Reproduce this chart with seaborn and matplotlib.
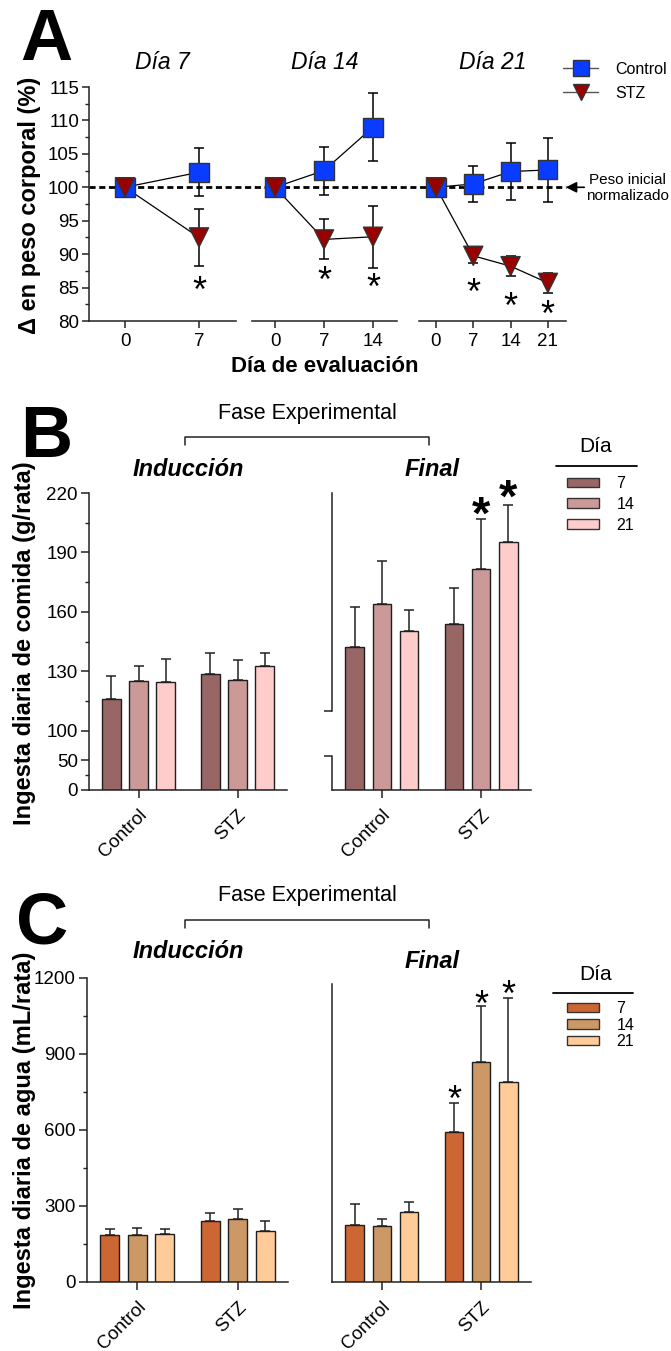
import numpy as np
import pandas as pd
import matplotlib
matplotlib.use("Agg")
import matplotlib.pyplot as plt
import seaborn as sns
from matplotlib.lines import Line2D
from matplotlib.patches import Patch
from matplotlib.transforms import blended_transform_factory, ScaledTranslation

# ------------------------------------------------------------------ data
# Panel A: body weight change (%)
A_titles = ["Día 7", "Día 14", "Día 21"]
A_days = [[0, 7], [0, 7, 14], [0, 7, 14, 21]]
A_ctrl_mean = [[100, 102.25], [100, 102.5, 109.0], [100, 100.5, 102.35, 102.6]]
A_ctrl_err = [[0, 3.6], [0, 3.6, 5.05], [0, 2.75, 4.3, 4.8]]
A_stz_mean = [[100, 92.5], [100, 92.2, 92.6], [100, 89.75, 88.2, 85.7]]
A_stz_err = [[0, 4.2], [0, 3.0, 4.6], [0, 1.1, 1.5, 1.5]]
A_star_days = [[7], [7, 14], [7, 14, 21]]
A_star_y = [[85.9], [87.4, 86.4], [85.7, 83.6, 82.4]]
A_yticks = [80, 85, 90, 95, 100, 105, 110, 115]

groups = ["Control", "STZ"]
dias = ["7", "14", "21"]
phases = ["Inducción", "Final"]

# Panel B: daily food intake (g/rata)
B_mean = {"Inducción": {"Control": [115.9, 125.2, 124.8], "STZ": [128.6, 125.7, 132.8]},
          "Final": {"Control": [142.4, 164.1, 150.2], "STZ": [153.7, 181.8, 195.3]}}
B_err = {"Inducción": {"Control": [11.8, 7.6, 11.4], "STZ": [10.6, 10.0, 6.7]},
         "Final": {"Control": [20.0, 21.8, 10.6], "STZ": [18.5, 25.0, 18.8]}}
B_stars = [("STZ", "14", 215.5), ("STZ", "21", 224.0)]
B_yticks = [0, 50, 100, 130, 160, 190, 220]
B_yminor = [25, 115, 145, 175, 205]
B_colors = ["#996666", "#cc9999", "#ffcccc"]

# Panel C: daily water intake (mL/rata)
C_mean = {"Inducción": {"Control": [187, 187, 190], "STZ": [240, 249, 203]},
          "Final": {"Control": [224, 223, 278], "STZ": [591, 868, 789]}}
C_err = {"Inducción": {"Control": [21, 27, 18], "STZ": [34, 41, 38]},
         "Final": {"Control": [85, 24, 37], "STZ": [116, 223, 331]}}
C_stars = [("STZ", "7", 758), ("STZ", "14", 1133), ("STZ", "21", 1172)]
C_yticks = [0, 300, 600, 900, 1200]
C_yminor = [150, 450, 750, 1050]
C_colors = ["#cc6633", "#cc9966", "#ffcc99"]

# ------------------------------------------------------------------ style
sns.set_style("ticks")
plt.rcParams["font.family"] = ["Liberation Sans", "DejaVu Sans"]
plt.rcParams["text.color"] = "black"
plt.rcParams["axes.labelcolor"] = "black"
plt.rcParams["axes.linewidth"] = 1.1
plt.rcParams["axes.edgecolor"] = "#222222"
plt.rcParams["xtick.color"] = "#222222"
plt.rcParams["ytick.color"] = "#222222"
plt.rcParams["xtick.labelcolor"] = "black"
plt.rcParams["ytick.labelcolor"] = "black"

W, H = 671, 1351
fig = plt.figure(figsize=(W / 100, H / 100), dpi=100)


def rect(l, t, r, b):
    return [l / W, 1 - b / H, (r - l) / W, (b - t) / H]


def fx(x):
    return x / W


def fy(y):
    return 1 - y / H


TICK_FS = 13.5


def star(ax, x, y, size, transform=None, bold=False):
    tr = transform if transform is not None else ax.transData
    tr = tr + ScaledTranslation(0, -0.57 * size / 72, fig.dpi_scale_trans)
    ax.text(x, y, "*", fontsize=size, ha="center", va="baseline", transform=tr,
            clip_on=False, fontweight="bold" if bold else "normal", zorder=6)


# ------------------------------------------------------------------ panel A
A_rects = [rect(89, 87, 236, 321), rect(252, 87, 397, 321), rect(419, 87, 566, 321)]
A_xlims = [(-3.41, 10.5), (-3.29, 17.43), (-3.19, 24.4)]
blue, red = "#0a3cff", "#990000"
axesA = []
for i in range(3):
    ax = fig.add_axes(A_rects[i])
    ax.patch.set_visible(False)
    axesA.append(ax)
    rows = []
    for g, means, errs in (("Control", A_ctrl_mean[i], A_ctrl_err[i]),
                           ("STZ", A_stz_mean[i], A_stz_err[i])):
        for d, m, e in zip(A_days[i], means, errs):
            rows.append({"day": d, "val": m, "err": e, "group": g})
    df = pd.DataFrame(rows)
    sns.lineplot(data=df, x="day", y="val", units="group", estimator=None,
                 color="black", lw=0.9, ax=ax, zorder=2, legend=False)
    for g in groups:
        sub = df[(df.group == g) & (df.err > 0)]
        ax.errorbar(sub.day, sub.val, yerr=sub.err, fmt="none", ecolor="black",
                    elinewidth=1.1, capsize=3.5, capthick=1.1, zorder=3)
    sns.scatterplot(data=df, x="day", y="val", hue="group", style="group",
                    hue_order=groups, style_order=groups,
                    palette={"Control": blue, "STZ": red},
                    markers={"Control": "s", "STZ": "v"}, s=190,
                    edgecolor="#333333", linewidth=1.0, ax=ax, zorder=4, legend=False)
    for d, y in zip(A_star_days[i], A_star_y[i]):
        star(ax, d, y, 26)
    ax.set_xlim(*A_xlims[i])
    ax.set_ylim(80, 115)
    ax.set_xticks(A_days[i])
    ax.set_xticklabels([str(d) for d in A_days[i]])
    ax.set_xlabel("")
    ax.set_ylabel("")
    ax.tick_params(axis="both", labelsize=TICK_FS, length=5, width=1.1, pad=4)
    sns.despine(ax=ax)
    if i == 0:
        ax.set_yticks(A_yticks)
        ax.set_yticks(np.arange(82.5, 115, 5), minor=True)
        ax.tick_params(axis="y", which="minor", length=3, width=1.0)
        ax.tick_params(axis="y", pad=2)
    else:
        ax.spines["left"].set_visible(False)
        ax.set_yticks([])
    ax.set_title(A_titles[i], fontsize=16.5, fontstyle="italic", pad=13)

fig.text(fx(30), fy(205), "Δ en peso corporal (%)", rotation=90, ha="center",
         va="center", fontsize=17, fontweight="bold")
fig.text(fx(325), fy(367), "Día de evaluación", ha="center", va="center",
         fontsize=16, fontweight="bold")
fig.text(fx(20), fy(60), "A", fontsize=52, fontweight="bold", ha="left", va="baseline")

# dashed reference line (y = 100) across the three sub-axes
trans = blended_transform_factory(fig.transFigure, axesA[0].transData)
fig.add_artist(Line2D([fx(89), fx(566)], [100, 100], transform=trans, color="black",
                      lw=2.0, ls=(0, (2.2, 1.3)), zorder=-1))
fig.add_artist(matplotlib.patches.FancyArrowPatch(
    (fx(587), 100), (fx(563), 100), transform=trans, arrowstyle="-|>",
    mutation_scale=16, color="black", lw=1.2))
fig.text(fx(627), fy(188), "Peso inicial\nnormalizado", ha="center", va="center",
         fontsize=11, linespacing=1.15)

legA = [Line2D([], [], color="#555555", lw=1.0, marker="s", markersize=11.5,
               markerfacecolor=blue, markeredgecolor="#333333"),
        Line2D([], [], color="#555555", lw=1.0, marker="v", markersize=12,
               markerfacecolor=red, markeredgecolor="#333333")]
fig.legend(legA, groups, loc="upper left", bbox_to_anchor=(fx(563), fy(62)),
           frameon=False, fontsize=11.5, handlelength=2.2, handletextpad=1.1,
           labelspacing=0.55, borderpad=0, borderaxespad=0, numpoints=1)


# ------------------------------------------------------------------ bar panels
def bar_panel(ax, means, errs, colors):
    rows = []
    for g in groups:
        for d, m, e in zip(dias, means[g], errs[g]):
            rows.append({"group": g, "dia": d, "val": m, "err": e})
    df = pd.DataFrame(rows)
    sns.barplot(data=df, x="group", y="val", hue="dia", order=groups, hue_order=dias,
                palette=colors, saturation=1, width=0.82, gap=0.32,
                edgecolor="#1e1e1e", linewidth=1.0, errorbar=None, legend=False,
                ax=ax, zorder=2)
    pos = {}
    for d, cont in zip(dias, ax.containers):
        for g, patch in zip(groups, cont.patches):
            x = patch.get_x() + patch.get_width() / 2
            pos[(g, d)] = x
            r = df[(df.group == g) & (df.dia == d)].iloc[0]
            ax.errorbar([x], [r.val], yerr=[[0], [r.err]], fmt="none", ecolor="#222222",
                        elinewidth=1.1, capsize=3.5, capthick=1.1, zorder=1)
    ax.set_xlim(-0.5, 1.5)
    ax.set_xlabel("")
    ax.set_ylabel("")
    ax.set_xticks([0, 1])
    ax.set_xticklabels(groups, rotation=45, ha="right", va="top",
                       rotation_mode="anchor")
    ax.tick_params(axis="both", labelsize=TICK_FS, length=6, width=1.1)
    ax.tick_params(axis="x", pad=6)
    sns.despine(ax=ax)
    return pos


r_low = 0.298


def fwd(y):
    y = np.asarray(y, float)
    return np.where(y < 100, y * r_low, 100 * r_low + (y - 100))


def inv(v):
    v = np.asarray(v, float)
    return np.where(v < 100 * r_low, v / r_low, v - 100 * r_low + 100)


def phase_header(top):
    fig.text(fx(307), fy(top), "Fase Experimental", ha="center", va="center",
             fontsize=15.5)


# ---- panel B
axB1 = fig.add_axes(rect(89, 493, 287, 790))
axB2 = fig.add_axes(rect(332, 493, 531, 790))
posB = {}
for ax, ph in ((axB1, "Inducción"), (axB2, "Final")):
    p = bar_panel(ax, B_mean[ph], B_err[ph], B_colors)
    ax.set_yscale("function", functions=(fwd, inv))
    ax.set_ylim(0, 220)
    posB[ph] = p
axB1.set_yticks(B_yticks)
axB1.set_yticklabels([str(t) for t in B_yticks])
axB1.set_yticks(B_yminor, minor=True)
axB1.tick_params(axis="y", which="minor", length=3, width=1.0)
axB1.tick_params(axis="y", pad=2)
# broken left axis of the "Final" panel
axB2.spines["left"].set_bounds(110, 220)
axB2.set_yticks([57, 110])
axB2.set_yticklabels(["", ""])
axB2.set_yticks([], minor=True)
tB = blended_transform_factory(axB2.transAxes, axB2.transData)
axB2.add_line(Line2D([0, 0], [0, 57], transform=tB, color="#222222", lw=1.1,
                     clip_on=False))
for g, d, y in B_stars:
    star(axB2, posB["Final"][(g, d)], y, 34, bold=True)

phase_header(413)
fig.add_artist(Line2D([fx(185), fx(185), fx(429), fx(429)],
                      [fy(445), fy(437), fy(437), fy(445)], color="#222222", lw=1.1))
fig.text(fx(188), fy(470), "Inducción", ha="center", va="center", fontsize=17,
         fontweight="bold", fontstyle="italic")
fig.text(fx(432), fy(470), "Final", ha="center", va="center", fontsize=17,
         fontweight="bold", fontstyle="italic")
fig.text(fx(20), fy(457), "B", fontsize=52, fontweight="bold", ha="left", va="baseline")
fig.text(fx(25), fy(643), "Ingesta diaria de comida (g/rata)", rotation=90,
         ha="center", va="center", fontsize=17, fontweight="bold")


def dia_legend(colors, title_y, line_y, top_y, spacing, line_x):
    fig.text(fx(596), fy(title_y), "Día", ha="center", va="center", fontsize=15)
    fig.add_artist(Line2D([fx(line_x[0]), fx(line_x[1])], [fy(line_y), fy(line_y)],
                          color="black", lw=1.3))
    handles = [Patch(facecolor=c, edgecolor="#333333", lw=1.0) for c in colors]
    fig.legend(handles, dias, loc="upper left", bbox_to_anchor=(fx(567), fy(top_y)),
               frameon=False, fontsize=11.5, handlelength=2.0, handleheight=0.55,
               handletextpad=1.1, labelspacing=spacing, borderpad=0,
               borderaxespad=0)


dia_legend(B_colors, 447, 466, 476, 0.37, (556, 637))

# ---- panel C
axC1 = fig.add_axes(rect(87, 978, 288, 1282))
axC2 = fig.add_axes(rect(332, 978, 531, 1282))
posC = {}
for ax, ph in ((axC1, "Inducción"), (axC2, "Final")):
    posC[ph] = bar_panel(ax, C_mean[ph], C_err[ph], C_colors)
    ax.set_ylim(0, 1200)
axC1.set_yticks(C_yticks)
axC1.set_yticks(C_yminor, minor=True)
axC1.tick_params(axis="y", which="minor", length=3, width=1.0)
axC1.tick_params(axis="y", pad=2)
axC2.set_yticks([])
axC2.spines["left"].set_bounds(0, 1175)
for g, d, y in C_stars:
    star(axC2, posC["Final"][(g, d)], y, 26)

phase_header(895)
fig.add_artist(Line2D([fx(185), fx(185), fx(429), fx(429)],
                      [fy(928), fy(920), fy(920), fy(928)], color="#222222", lw=1.1))
fig.text(fx(188), fy(952), "Inducción", ha="center", va="center", fontsize=17,
         fontweight="bold", fontstyle="italic")
fig.text(fx(432), fy(962), "Final", ha="center", va="center", fontsize=17,
         fontweight="bold", fontstyle="italic")
fig.text(fx(16), fy(943), "C", fontsize=52, fontweight="bold", ha="left", va="baseline")
fig.text(fx(25), fy(1130), "Ingesta diaria de agua (mL/rata)", rotation=90,
         ha="center", va="center", fontsize=17, fontweight="bold")
dia_legend(C_colors, 975, 993, 1001, 0.1, (553, 633))

fig.savefig("out.png", dpi=100, facecolor="white")
